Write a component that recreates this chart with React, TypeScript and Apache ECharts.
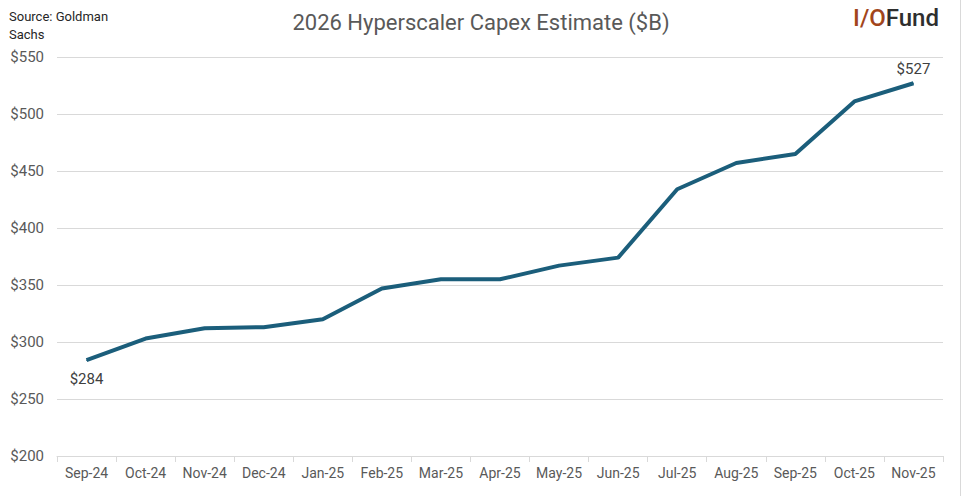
import React, { useEffect, useRef } from "react";
import * as echarts from "echarts";

const categories = ["Sep-24", "Oct-24", "Nov-24", "Dec-24", "Jan-25", "Feb-25", "Mar-25", "Apr-25", "May-25", "Jun-25", "Jul-25", "Aug-25", "Sep-25", "Oct-25", "Nov-25"];
const capex = [284, 303, 312, 313, 320, 347, 355, 355, 367, 374, 434, 457, 465, 511, 527];
const labeledIndexes = [0, 14];

const FONT = "Roboto, 'Noto Sans', sans-serif";
const LINE = "#1b5e7b";

export default function App() {
  const ref = useRef<HTMLDivElement>(null);
  useEffect(() => {
    if (!ref.current) return;
    const chart = echarts.init(ref.current, null, { renderer: "svg" });
    chart.setOption({
      animation: false,
      backgroundColor: "#ffffff",
      title: {
        text: "2026 Hyperscaler Capex Estimate ($B)",
        left: "center",
        top: 6,
        textStyle: { fontFamily: FONT, fontSize: 22, fontWeight: "normal", color: "#595959" },
      },
      grid: { left: 57, right: 19, top: 57, bottom: 40 },
      xAxis: {
        type: "category",
        data: categories,
        boundaryGap: true,
        axisLine: { show: true, lineStyle: { color: "#d9d9d9", width: 1 } },
        axisTick: { show: true, length: 6, interval: 0, lineStyle: { color: "#d9d9d9" } },
        axisLabel: { fontFamily: FONT, fontSize: 14, color: "#595959", margin: 10, interval: 0 },
      },
      yAxis: {
        type: "value",
        min: 200,
        max: 550,
        interval: 50,
        axisLine: { show: false },
        axisTick: { show: false },
        axisLabel: {
          fontFamily: FONT,
          fontSize: 15,
          color: "#595959",
          margin: 13,
          formatter: (v: number) => "$" + v,
        },
        splitLine: { lineStyle: { color: "#d9d9d9", width: 1 } },
      },
      series: [
        {
          type: "line",
          data: capex.map((v, i) =>
            labeledIndexes.includes(i)
              ? {
                  value: v,
                  label: {
                    show: true,
                    position: i === 0 ? "bottom" : "top",
                    distance: i === 0 ? 11 : 6,
                    formatter: "$" + v,
                    fontFamily: FONT,
                    fontSize: 15,
                    color: "#404040",
                  },
                }
              : v
          ),
          symbol: "circle",
          symbolSize: 1,
          showSymbol: true,
          itemStyle: { color: LINE },
          lineStyle: { color: LINE, width: 4 },
        },
      ],
      graphic: [
        {
          type: "text",
          left: 9,
          top: 7,
          style: {
            text: "Source: Goldman\nSachs",
            fontFamily: FONT,
            fontSize: 13,
            lineHeight: 18,
            fill: "#262626",
          },
        },
        {
          type: "text",
          right: 23,
          top: 6,
          style: {
            text: "{a|I/O}{b|Fund}",
            rich: {
              a: { fontFamily: FONT, fontSize: 24, fontWeight: 500, fill: "#a2451b", color: "#a2451b" },
              b: { fontFamily: FONT, fontSize: 24, fontWeight: 500, fill: "#2e2e2e", color: "#2e2e2e" },
            },
          },
        },
        {
          type: "line",
          shape: { x1: 960.5, y1: 0, x2: 960.5, y2: 496 },
          style: { stroke: "#d9d9d9", lineWidth: 1 },
        },
      ],
    });
    return () => chart.dispose();
  }, []);
  return <div ref={ref} style={{ position: "fixed", left: 0, top: 0, width: 962, height: 496 }} />;
}
